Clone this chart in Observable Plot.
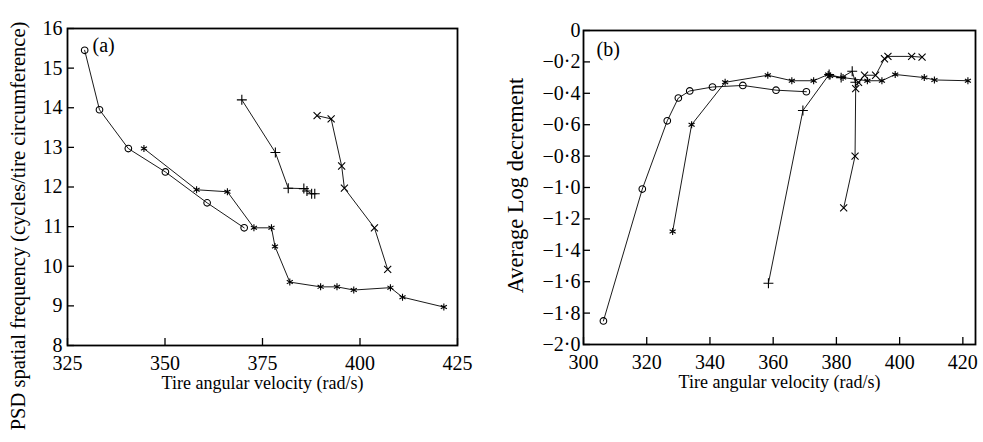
<!DOCTYPE html>
<html><head><meta charset="utf-8">
<script src="https://cdn.jsdelivr.net/npm/d3@7"></script>
<script src="https://cdn.jsdelivr.net/npm/@observablehq/plot@0.6"></script>
<style>
body{margin:0;background:#fff;}
#wrap{position:relative;width:983px;height:442px;font-family:"Liberation Serif",serif;overflow:hidden;}
#a{position:absolute;left:0;top:0}
#b{position:absolute;left:490px;top:0}
</style></head><body><div id="wrap"><div id="a"></div><div id="b"></div></div>
<script>
// ---- Panel (a): PSD spatial frequency ----
const seriesNames = ["circle", "asterisk", "plus", "times"];
const aCircleX = [329.4, 333.2, 340.6, 350.1, 360.8, 370.3];
const aCircleY = [15.45, 13.95, 12.97, 12.38, 11.6, 10.97];
const aAstX = [344.6, 358.1, 366.0, 372.8, 377.3, 378.2, 382.0, 389.9, 394.1, 398.4, 407.8, 410.9, 421.5];
const aAstY = [12.97, 11.93, 11.88, 10.97, 10.97, 10.5, 9.6, 9.48, 9.48, 9.4, 9.46, 9.22, 8.97];
const aPlusX = [369.7, 378.3, 381.6, 385.6, 386.4, 387.6, 388.4];
const aPlusY = [14.2, 12.87, 11.97, 11.96, 11.9, 11.83, 11.83];
const aTimesX = [389.0, 392.6, 395.3, 396.0, 403.7, 407.1];
const aTimesY = [13.8, 13.72, 12.53, 11.97, 10.97, 9.92];
const aXTicks = [325, 350, 375, 400, 425];
const aYTicks = [8, 9, 10, 11, 12, 13, 14, 15, 16];
const aXLabel = "Tire angular velocity (rad/s)";
const aYLabel = "PSD spatial frequency (cycles/tire circumference)";

// ---- Panel (b): Average Log decrement ----
const bCircleX = [306.3, 318.6, 326.5, 330.0, 333.6, 340.8, 350.4, 360.9, 370.5];
const bCircleY = [-1.85, -1.01, -0.575, -0.43, -0.385, -0.36, -0.35, -0.38, -0.39];
const bAstX = [328.2, 334.2, 344.8, 358.3, 365.9, 372.8, 377.4, 378.0, 382.1, 389.8, 394.4, 398.6, 407.8, 411.0, 421.6];
const bAstY = [-1.28, -0.6, -0.33, -0.285, -0.32, -0.32, -0.28, -0.29, -0.30, -0.32, -0.32, -0.28, -0.30, -0.315, -0.32];
const bPlusX = [358.5, 369.4, 377.7, 381.5, 385.0, 386.0];
const bPlusY = [-1.61, -0.51, -0.28, -0.30, -0.26, -0.33];
const bTimesX = [382.3, 385.9, 386.1, 387.0, 388.9, 392.4, 395.2, 396.3, 403.8, 407.1];
const bTimesY = [-1.13, -0.80, -0.37, -0.33, -0.285, -0.285, -0.18, -0.165, -0.165, -0.17];
const bXTicks = [300, 320, 340, 360, 380, 400, 420];
const bYTicks = [0, -0.2, -0.4, -0.6, -0.8, -1.0, -1.2, -1.4, -1.6, -1.8, -2.0];
const bXLabel = "Tire angular velocity (rad/s)";
const bYLabel = "Average Log decrement";

function rows(name, xs, ys) { return xs.map((x, i) => ({series: name, x, y: ys[i]})); }
const aData = [
  ...rows("circle", aCircleX, aCircleY), ...rows("asterisk", aAstX, aAstY),
  ...rows("plus", aPlusX, aPlusY), ...rows("times", aTimesX, aTimesY)];
const bData = [
  ...rows("circle", bCircleX, bCircleY), ...rows("asterisk", bAstX, bAstY),
  ...rows("plus", bPlusX, bPlusY), ...rows("times", bTimesX, bTimesY)];

const fmtB = d => d === 0 ? "0" : "\u2212" + Math.abs(d).toFixed(1).replace(".", "\u00b7");
const FONT = "Liberation Serif";
const style = {fontFamily: FONT, fontSize: "17px", color: "black", background: "white", overflow: "visible"};

function panel(opts) {
  return Plot.plot({
    width: opts.width, height: 442,
    marginLeft: opts.ml, marginRight: opts.mr, marginTop: opts.mt, marginBottom: opts.mb,
    style,
    x: {domain: opts.xDomain},
    y: {domain: opts.yDomain},
    symbol: {domain: seriesNames, range: ["circle", "asterisk", "plus", "times"]},
    marks: [
      Plot.frame({stroke: "black", strokeWidth: 1.8}),
      Plot.axisX({ticks: opts.xTicks, tickSize: -7, tickPadding: 17, label: null, fontSize: 20, stroke: "black", strokeWidth: 1.3}),
      Plot.axisY({ticks: opts.yTicks, tickSize: -7, tickPadding: opts.yPad, tickFormat: opts.yFmt, label: null, fontSize: 20, stroke: "black", strokeWidth: 1.3}),
      Plot.line(opts.data, {x: "x", y: "y", z: "series", stroke: "black", strokeWidth: 0.9}),
      Plot.dot(opts.data, {x: "x", y: "y", symbol: "series", stroke: "black", r: 3.3, strokeWidth: 1.1}),
      Plot.text([opts.tag], {frameAnchor: "top-left", dx: opts.tagDx, dy: opts.tagDy, fontSize: 20, fill: "black"}),
      Plot.text([opts.xLabel], {frameAnchor: "bottom", dy: 43, fontSize: 18, fill: "black"}),
      Plot.text([opts.yLabel], {frameAnchor: "left", textAnchor: "middle", rotate: -90, dx: opts.yLabDx, dy: opts.yLabDy, fontSize: opts.yLabSize, fill: "black"})
    ]
  });
}

document.getElementById("a").append(panel({
  width: 470, ml: 67, mr: 13, mt: 28, mb: 97,
  xDomain: [325, 425], yDomain: [8, 16], xTicks: aXTicks, yTicks: aYTicks,
  yFmt: d => String(d), yPad: 12,
  data: aData, tag: "(a)", tagDx: 25, tagDy: 9,
  xLabel: aXLabel, yLabel: aYLabel, yLabDx: -49, yLabDy: 39, yLabSize: 20.5
}));
document.getElementById("b").append(panel({
  width: 493, ml: 93, mr: 8, mt: 30, mb: 98,
  xDomain: [300, 424], yDomain: [-2, 0], xTicks: bXTicks, yTicks: bYTicks,
  yFmt: fmtB, yPad: 10,
  data: bData, tag: "(b)", tagDx: 13, tagDy: 11,
  xLabel: bXLabel, yLabel: bYLabel, yLabDx: -68, yLabDy: -2, yLabSize: 22.5
}));
</script></body></html>
